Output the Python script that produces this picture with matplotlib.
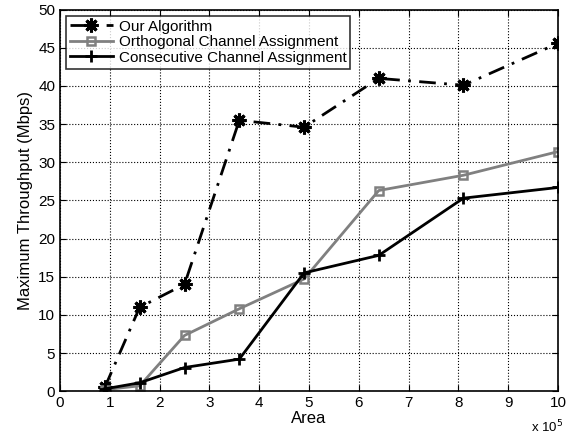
import numpy as np
import matplotlib
matplotlib.use("Agg")
import matplotlib.pyplot as plt

plt.rcParams['font.family'] = ['Liberation Sans', 'DejaVu Sans']

# area in units of 1e5
area = [0.9, 1.6, 2.5, 3.6, 4.9, 6.4, 8.1, 10.0]
ours = [0.5, 11.0, 14.0, 35.5, 34.6, 41.0, 40.1, 45.6]
orthogonal = [0.2, 0.7, 7.3, 10.8, 14.7, 26.3, 28.3, 31.4]
consecutive = [0.3, 1.1, 3.1, 4.2, 15.5, 17.8, 25.3, 26.7]

fig = plt.figure(figsize=(5.66, 4.41), dpi=100)
ax = fig.add_axes([0.106, 0.113, 0.880, 0.865])

ax.plot(area, ours, color='black', linestyle=(0, (6, 3, 1, 3)), linewidth=2,
        marker=(8, 2, 0), markersize=10, markeredgewidth=2.2, label='Our Algorithm')
ax.plot(area, orthogonal, color='#808080', linestyle='-', linewidth=2,
        marker='s', markersize=6, markerfacecolor='none', markeredgewidth=1.8,
        label='Orthogonal Channel Assignment')
ax.plot(area, consecutive, color='black', linestyle='-', linewidth=2,
        marker='+', markersize=9, markeredgewidth=2, label='Consecutive Channel Assignment')

ax.set_xlim(0, 10)
ax.set_ylim(0, 50)
ax.set_xticks(np.arange(0, 11, 1))
ax.set_yticks(np.arange(0, 51, 5))
ax.tick_params(direction='in', top=True, right=True, labelsize=11, length=4)
ax.grid(True, linestyle=':', color='black', linewidth=0.8)
for s in ax.spines.values():
    s.set_linewidth(1.2)

ax.set_xlabel('Area', fontsize=12, labelpad=1)
ax.set_ylabel('Maximum Throughput (Mbps)', fontsize=12, labelpad=4)
fig.text(0.938, 0.012, r'x 10$^5$', fontsize=9.5, ha='left', va='bottom')

leg = ax.legend(loc='upper left', fontsize=11, frameon=True, fancybox=False,
                edgecolor='black', borderpad=0.25, labelspacing=0.1,
                handlelength=2.8, handletextpad=0.4, borderaxespad=0.4)
leg.get_frame().set_linewidth(1.2)

fig.savefig('out.png', dpi=100)
